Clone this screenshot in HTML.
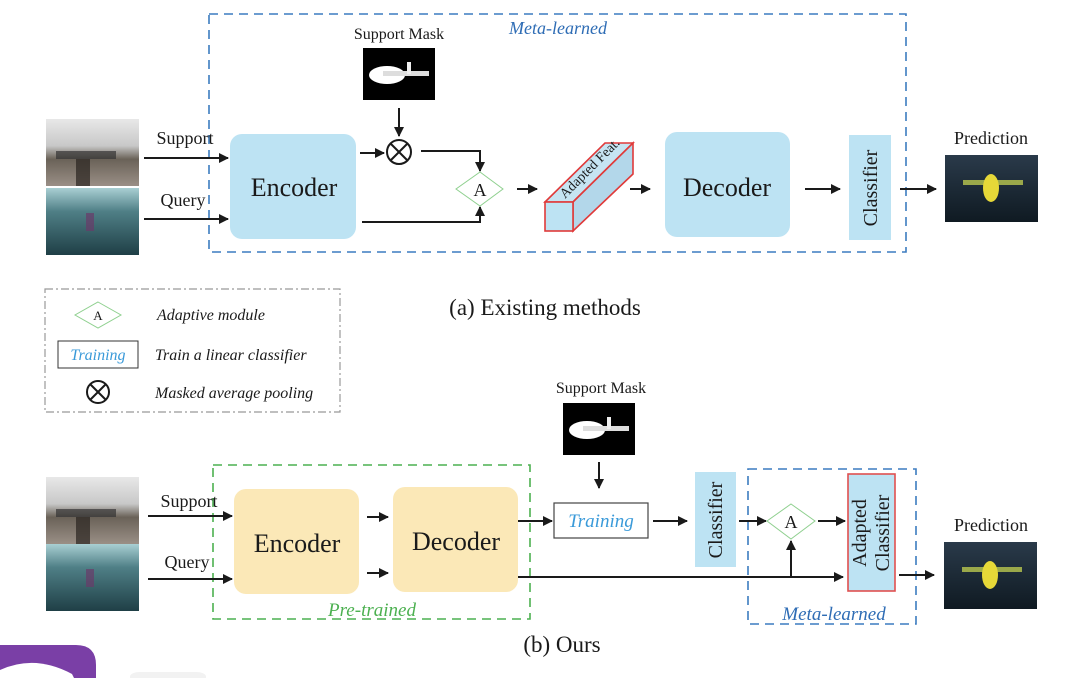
<!DOCTYPE html>
<html><head><meta charset="utf-8"><style>
html,body{margin:0;padding:0;background:#fff;width:1080px;height:678px;overflow:hidden;}
svg{display:block;}
text{font-family:"Liberation Serif",serif;fill:#1a1a1a;}
.it{font-style:italic;}
</style></head><body>
<svg width="1080" height="678" viewBox="0 0 1080 678" xmlns="http://www.w3.org/2000/svg">
<defs>
<marker id="ah" markerWidth="10" markerHeight="10" refX="9" refY="5" orient="auto" markerUnits="userSpaceOnUse"><path d="M0,0 L10,5 L0,10 Z" fill="#1a1a1a"/></marker>
<linearGradient id="sup" x1="0" y1="0" x2="0" y2="1"><stop offset="0" stop-color="#e8e8e8"/><stop offset="0.4" stop-color="#c8c8c8"/><stop offset="0.6" stop-color="#6a6258"/><stop offset="1" stop-color="#9a8f86"/></linearGradient>
<linearGradient id="qry" x1="0" y1="0" x2="0" y2="1"><stop offset="0" stop-color="#a9cfd3"/><stop offset="0.35" stop-color="#4f7f86"/><stop offset="1" stop-color="#1f3f46"/></linearGradient>
<linearGradient id="pred" x1="0" y1="0" x2="0" y2="1"><stop offset="0" stop-color="#2a3a4a"/><stop offset="1" stop-color="#0f1a22"/></linearGradient>
<g id="supimg"><rect width="93" height="67" fill="url(#sup)"/><rect x="10" y="32" width="60" height="8" fill="#333" opacity="0.7"/><rect x="30" y="40" width="14" height="27" fill="#2a2420" opacity="0.7"/></g>
<g id="qimg"><rect width="93" height="67" fill="url(#qry)"/><rect x="40" y="25" width="8" height="18" fill="#6a3a6a" opacity="0.7"/></g>
<g id="mask"><rect width="72" height="52" fill="#000"/><ellipse cx="24" cy="27" rx="18" ry="9" fill="#fff"/><rect x="20" y="23" width="46" height="5" fill="#ddd"/><rect x="44" y="14" width="4" height="12" fill="#eee"/></g>
<g id="pimg"><rect width="93" height="67" fill="url(#pred)"/><rect x="18" y="25" width="60" height="5" fill="#9aa84a"/><ellipse cx="46" cy="33" rx="8" ry="14" fill="#e6d838"/></g>
</defs>
<!-- (a) top -->
<rect x="209" y="14" width="697" height="238" fill="none" stroke="#3c7cc0" stroke-width="1.6" stroke-dasharray="9,6"/>
<text x="558" y="34" font-size="18" class="it" text-anchor="middle" style="fill:#2f6db5">Meta-learned</text>

<use href="#supimg" x="46" y="119"/>
<use href="#qimg" x="46" y="188"/>
<text x="185" y="144" font-size="18" text-anchor="middle">Support</text>
<text x="183" y="206" font-size="18" text-anchor="middle">Query</text>
<line x1="144" y1="158" x2="228" y2="158" stroke="#1a1a1a" stroke-width="2" marker-end="url(#ah)"/>
<line x1="144" y1="219" x2="228" y2="219" stroke="#1a1a1a" stroke-width="2" marker-end="url(#ah)"/>
<rect x="230" y="134" width="126" height="105" rx="12" fill="#bde3f3"/>
<text x="294" y="196" font-size="26" text-anchor="middle">Encoder</text>

<text x="399" y="39" font-size="16" text-anchor="middle">Support Mask</text>
<use href="#mask" x="363" y="48"/>
<line x1="399" y1="108" x2="399" y2="136" stroke="#1a1a1a" stroke-width="2" marker-end="url(#ah)"/>
<circle cx="399" cy="152" r="12" fill="none" stroke="#1a1a1a" stroke-width="2"/>
<line x1="390.5" y1="143.5" x2="407.5" y2="160.5" stroke="#1a1a1a" stroke-width="2"/>
<line x1="407.5" y1="143.5" x2="390.5" y2="160.5" stroke="#1a1a1a" stroke-width="2"/>
<line x1="360" y1="153" x2="384" y2="153" stroke="#1a1a1a" stroke-width="2" marker-end="url(#ah)"/>
<polyline points="421,151 480,151 480,171" fill="none" stroke="#1a1a1a" stroke-width="2" marker-end="url(#ah)"/>
<polyline points="362,222 480,222 480,207" fill="none" stroke="#1a1a1a" stroke-width="2" marker-end="url(#ah)"/>
<polygon points="480,172 503,189 480,206 456,189" fill="#fff" stroke="#8fd08f" stroke-width="1"/>
<text x="480" y="196" font-size="18" text-anchor="middle">A</text>
<line x1="517" y1="189" x2="537" y2="189" stroke="#1a1a1a" stroke-width="2" marker-end="url(#ah)"/>

<polygon points="545,202 573,202 633,143 605,143" fill="#c6e4f2" stroke="#e03a3a" stroke-width="1.6"/>
<polygon points="573,202 633,143 633,174 573,231" fill="#b3d7ea" stroke="#e03a3a" stroke-width="1.6"/>
<rect x="545" y="202" width="28" height="29" fill="#bde3f3" stroke="#e03a3a" stroke-width="1.6"/>
<text x="0" y="0" font-size="14" transform="translate(565,199) rotate(-45)">Adapted Feat.</text>
<line x1="630" y1="189" x2="650" y2="189" stroke="#1a1a1a" stroke-width="2" marker-end="url(#ah)"/>

<rect x="665" y="132" width="125" height="105" rx="12" fill="#bde3f3"/>
<text x="727" y="196" font-size="26" text-anchor="middle">Decoder</text>
<line x1="805" y1="189" x2="840" y2="189" stroke="#1a1a1a" stroke-width="2" marker-end="url(#ah)"/>
<rect x="849" y="135" width="42" height="105" fill="#bde3f3"/>
<text x="0" y="0" font-size="20" text-anchor="middle" transform="translate(877,188) rotate(-90)">Classifier</text>
<line x1="900" y1="189" x2="936" y2="189" stroke="#1a1a1a" stroke-width="2" marker-end="url(#ah)"/>
<text x="991" y="144" font-size="18" text-anchor="middle">Prediction</text>
<use href="#pimg" x="945" y="155"/>

<rect x="45" y="289" width="295" height="123" fill="none" stroke="#999" stroke-width="1.2" stroke-dasharray="8,3,2,3"/>
<polygon points="98,302 121,315 98,328 75,315" fill="#fff" stroke="#8fd08f" stroke-width="1"/>
<text x="98" y="320" font-size="13" text-anchor="middle">A</text>
<text x="157" y="320" font-size="16" class="it">Adaptive module</text>
<rect x="58" y="341" width="80" height="27" fill="#fff" stroke="#333" stroke-width="1"/>
<text x="98" y="360" font-size="16" class="it" text-anchor="middle" style="fill:#3a9ad9">Training</text>
<text x="155" y="360" font-size="16" class="it">Train a linear classifier</text>
<circle cx="98" cy="392" r="11" fill="none" stroke="#1a1a1a" stroke-width="2"/>
<line x1="90.5" y1="384.5" x2="105.5" y2="399.5" stroke="#1a1a1a" stroke-width="2"/>
<line x1="105.5" y1="384.5" x2="90.5" y2="399.5" stroke="#1a1a1a" stroke-width="2"/>
<text x="155" y="398" font-size="16" class="it">Masked average pooling</text>

<text x="545" y="315" font-size="23" text-anchor="middle">(a) Existing methods</text>

<rect x="213" y="465" width="317" height="154" fill="none" stroke="#4cb050" stroke-width="1.6" stroke-dasharray="9,6"/>
<text x="372" y="616" font-size="19" class="it" text-anchor="middle" style="fill:#4cb050">Pre-trained</text>
<use href="#supimg" x="46" y="477"/>
<use href="#qimg" x="46" y="544"/>
<text x="189" y="507" font-size="18" text-anchor="middle">Support</text>
<text x="187" y="568" font-size="18" text-anchor="middle">Query</text>
<line x1="148" y1="516" x2="232" y2="516" stroke="#1a1a1a" stroke-width="2" marker-end="url(#ah)"/>
<line x1="148" y1="579" x2="232" y2="579" stroke="#1a1a1a" stroke-width="2" marker-end="url(#ah)"/>
<rect x="234" y="489" width="125" height="105" rx="12" fill="#fbe8b7"/>
<text x="297" y="552" font-size="26" text-anchor="middle">Encoder</text>
<line x1="367" y1="517" x2="388" y2="517" stroke="#1a1a1a" stroke-width="2" marker-end="url(#ah)"/>
<line x1="367" y1="573" x2="388" y2="573" stroke="#1a1a1a" stroke-width="2" marker-end="url(#ah)"/>
<rect x="393" y="487" width="125" height="105" rx="12" fill="#fbe8b7"/>
<text x="456" y="550" font-size="26" text-anchor="middle">Decoder</text>

<text x="601" y="393" font-size="16" text-anchor="middle">Support Mask</text>
<use href="#mask" x="563" y="403"/>
<line x1="599" y1="462" x2="599" y2="488" stroke="#1a1a1a" stroke-width="2" marker-end="url(#ah)"/>
<line x1="518" y1="521" x2="552" y2="521" stroke="#1a1a1a" stroke-width="2" marker-end="url(#ah)"/>
<rect x="554" y="503" width="94" height="35" fill="#fff" stroke="#444" stroke-width="1.2"/>
<text x="601" y="527" font-size="19" class="it" text-anchor="middle" style="fill:#3a9ad9">Training</text>
<line x1="653" y1="521" x2="687" y2="521" stroke="#1a1a1a" stroke-width="2" marker-end="url(#ah)"/>
<rect x="695" y="472" width="41" height="95" fill="#bde3f3"/>
<text x="0" y="0" font-size="20" text-anchor="middle" transform="translate(722,520) rotate(-90)">Classifier</text>

<rect x="748" y="469" width="168" height="155" fill="none" stroke="#3c7cc0" stroke-width="1.6" stroke-dasharray="9,6"/>
<text x="834" y="620" font-size="19" class="it" text-anchor="middle" style="fill:#2f6db5">Meta-learned</text>
<line x1="739" y1="521" x2="766" y2="521" stroke="#1a1a1a" stroke-width="2" marker-end="url(#ah)"/>
<polygon points="791,504 815,521 791,539 767,521" fill="#fff" stroke="#8fd08f" stroke-width="1"/>
<text x="791" y="528" font-size="18" text-anchor="middle">A</text>
<line x1="818" y1="521" x2="845" y2="521" stroke="#1a1a1a" stroke-width="2" marker-end="url(#ah)"/>
<line x1="518" y1="577" x2="843" y2="577" stroke="#1a1a1a" stroke-width="2" marker-end="url(#ah)"/>
<line x1="791" y1="577" x2="791" y2="541" stroke="#1a1a1a" stroke-width="2" marker-end="url(#ah)"/>
<rect x="848" y="474" width="47" height="117" fill="#bde3f3" stroke="#e05050" stroke-width="1.6"/>
<text x="0" y="0" font-size="20" text-anchor="middle" transform="translate(866,533) rotate(-90)">Adapted</text>
<text x="0" y="0" font-size="20" text-anchor="middle" transform="translate(889,533) rotate(-90)">Classifier</text>
<line x1="899" y1="575" x2="934" y2="575" stroke="#1a1a1a" stroke-width="2" marker-end="url(#ah)"/>
<text x="991" y="531" font-size="18" text-anchor="middle">Prediction</text>
<use href="#pimg" x="944" y="542"/>

<text x="562" y="652" font-size="23" text-anchor="middle">(b) Ours</text>

<path d="M0,678 L0,645 L76,645 Q96,645 96,665 L96,678 Z" fill="#7a3fa6"/>
<path d="M0,678 L0,670 Q35,654 72,674 L74,678 Z" fill="#fff"/>
<path d="M130,678 L130,676 Q132,672 140,672 L196,672 Q204,672 206,676 L206,678 Z" fill="#f2f2f2"/>
</svg>
</body></html>
